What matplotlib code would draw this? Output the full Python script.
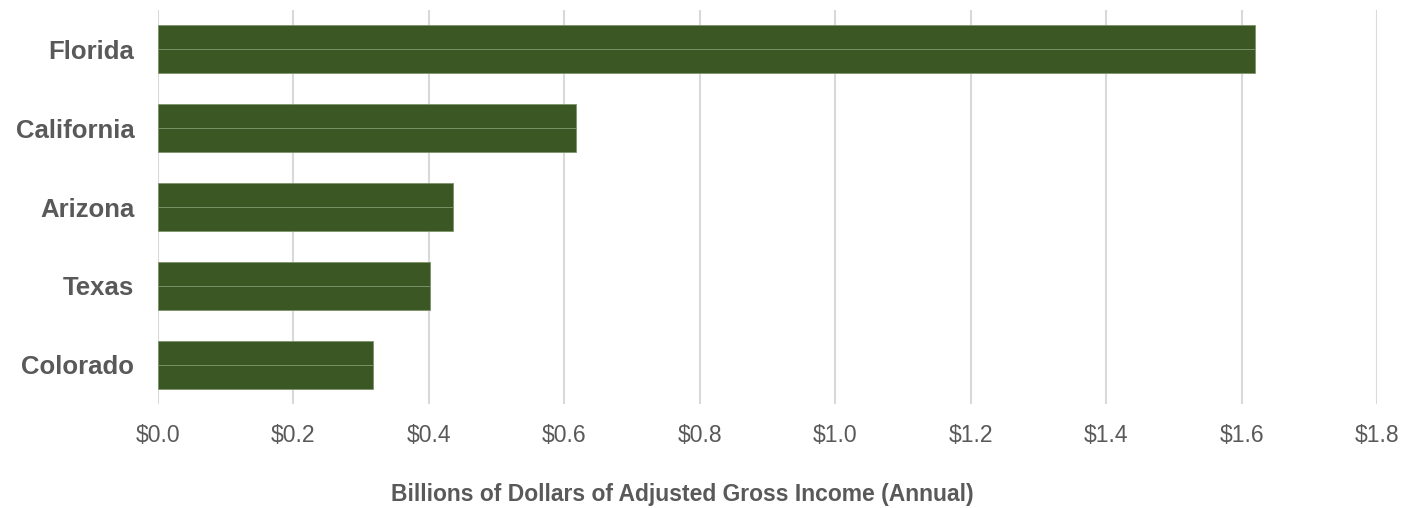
import matplotlib.pyplot as plt
from matplotlib.ticker import FuncFormatter

states = ["Florida", "California", "Arizona", "Texas", "Colorado"]
agi_billions = [1.62, 0.617, 0.436, 0.402, 0.317]
xticks = [0.0, 0.2, 0.4, 0.6, 0.8, 1.0, 1.2, 1.4, 1.6, 1.8]

plt.rcParams['font.family'] = ['Liberation Sans', 'DejaVu Sans']
grey = '#595959'
green = '#3a5724'

fig = plt.figure(figsize=(14.04, 5.08), dpi=100)
ax = fig.add_axes([0.1125, 0.204, 0.8683, 0.777])

pos = list(range(len(states)))
h = 0.61
# each bar drawn as two halves so the faint middle seam shows
ax.barh([p - h / 4 for p in pos], agi_billions, height=h / 2, color=green,
        edgecolor='#7d9468', linewidth=0.6, zorder=3)
ax.barh([p + h / 4 for p in pos], agi_billions, height=h / 2, color=green,
        edgecolor='#7d9468', linewidth=0.6, zorder=3)

ax.set_ylim(len(states) - 0.5, -0.5)
ax.set_xlim(0, 1.8)
ax.set_yticks(pos)
ax.set_yticklabels(states, fontsize=18.5, fontweight='bold', color=grey)
ax.set_xticks(xticks)
ax.xaxis.set_major_formatter(FuncFormatter(lambda v, _: f"${v:.1f}"))
ax.tick_params(axis='x', labelsize=16.5, colors=grey, length=0, pad=14)
ax.tick_params(axis='y', length=0, pad=17)

ax.grid(axis='x', color='#d9d9d9', linewidth=1.5, zorder=0)
for s in ax.spines.values():
    s.set_visible(False)

ax.set_xlabel("Billions of Dollars of Adjusted Gross Income (Annual)",
              fontsize=16.5, fontweight='bold', color=grey)
ax.xaxis.set_label_coords(0.43, -0.2)

fig.savefig("out.png", dpi=100)
